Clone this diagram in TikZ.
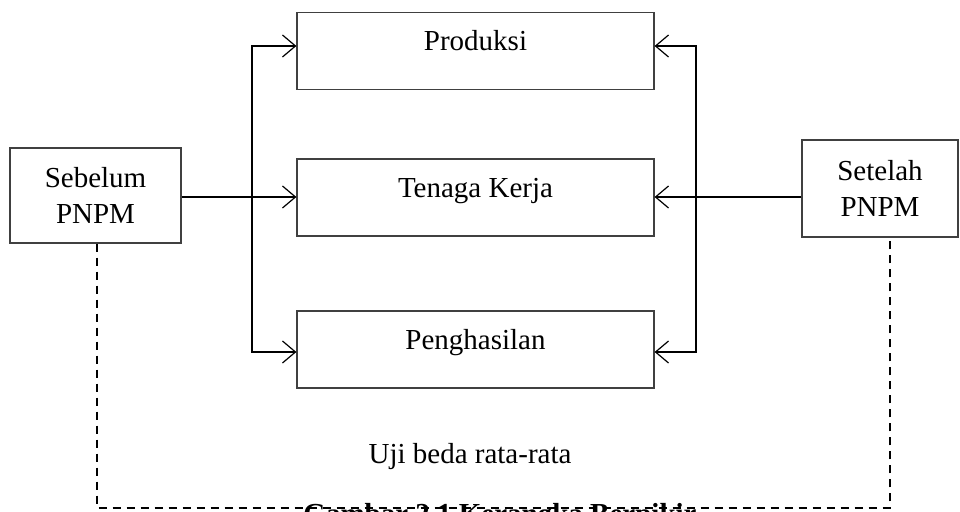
\documentclass[tikz,border=0pt]{standalone}
\usepackage{fontspec}
\setmainfont{Liberation Serif}
\usetikzlibrary{arrows.meta,positioning}
\tikzstyle{varBox} = [
  rectangle,
  draw=black!75,
  line width=0.6pt,
  align=center,
  inner sep=0pt,
  font=\fontsize{14.5}{18}\selectfont]
\tikzstyle{midBox} = [
  varBox,
  minimum width=178.5pt,
  minimum height=38.5pt,
  text height=9pt,
  text depth=9pt]
\tikzstyle{flow} = [
  line width=0.6pt,
  -{Straight Barb[length=6.5pt,width=11pt,line width=0.6pt]}]
\tikzstyle{test} = [
  dashed,
  line width=0.6pt,
  dash pattern=on 4pt off 3pt]

\begin{document}
\begin{tikzpicture}[x=0.5pt,y=-0.5pt]
  \useasboundingbox (0,0) rectangle (960,512);
  % variabel
  \node[midBox] (prod) at (475.5,51) {Produksi};
  \node[midBox] (tenaga) at (475.5,197.5) {Tenaga Kerja};
  \node[midBox] (hasil) at (475.5,349.5) {Penghasilan};
  % kondisi
  \node[varBox, minimum width=85.5pt, minimum height=47.5pt] (sebelum) at (95.5,195.5) {Sebelum\\PNPM};
  \node[varBox, minimum width=78pt, minimum height=48.5pt] (setelah) at (880,188.5) {Setelah\\PNPM};
  % cabang kiri dan kanan
  \coordinate (kiri) at (252,197);
  \coordinate (kanan) at (696,197);
  \draw[flow] (sebelum.east |- kiri) -- (tenaga.west |- kiri);
  \draw[flow] (kiri) -- (252,46) -- (prod.west |- 0,46);
  \draw[flow] (kiri) -- (252,352) -- (hasil.west |- 0,352);
  \draw[flow] (setelah.west |- kanan) -- (tenaga.east |- kanan);
  \draw[flow] (kanan) -- (696,46) -- (prod.east |- 0,46);
  \draw[flow] (kanan) -- (696,352) -- (hasil.east |- 0,352);
  % uji beda
  \draw[test] (sebelum.south -| 97,0) -- (97,508) -- (890,508) -- (setelah.south -| 890,0);
  \node[font=\fontsize{14.5}{18}\selectfont] (uji) at (470,457) {Uji beda rata-rata};
  \node[font=\bfseries\fontsize{14.5}{18}\selectfont, anchor=north, inner sep=0pt] (judul) at (500,503) {Gambar 2.1 Kerangka Berpikir};
\end{tikzpicture}
\end{document}
